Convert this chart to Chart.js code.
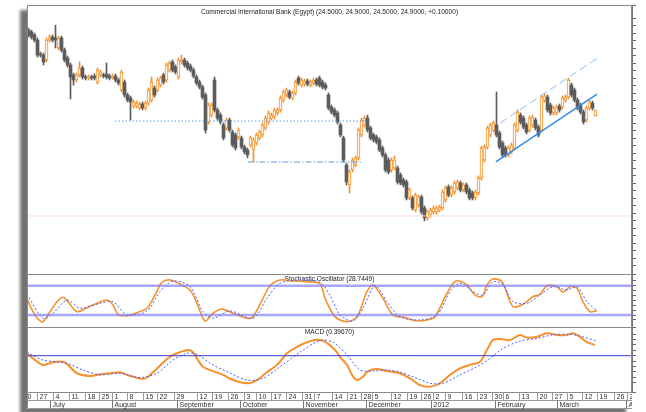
<!DOCTYPE html>
<html>
<head>
<meta charset="utf-8">
<script src="https://cdn.jsdelivr.net/npm/chart.js@4.4.1/dist/chart.umd.min.js"></script>
<style>
html, body { margin: 0; padding: 0; background: #fff; }
body { width: 646px; height: 412px; position: relative; overflow: hidden; }
#frame { position: absolute; left: 27px; top: 5px; width: 606px; height: 404px; background: #fff;
  box-shadow: -7px 5px 3px rgba(0,0,0,0.55); }
canvas { position: absolute; left: 0; }
#cMain { top: 0; }
#cStoch { top: 274px; }
#cMacd { top: 327px; }
</style>
</head>
<body>
<div id="frame"></div>
<canvas id="cMain" width="646" height="275"></canvas>
<canvas id="cStoch" width="646" height="53"></canvas>
<canvas id="cMacd" width="646" height="85"></canvas>
<script>
// daily candles, one per trading day (index 0 = late June 2011)
const opens = [
  30.23,30.10,29.90,29.56,28.63,28.56,28.23,29.56,29.76,29.70,
  29.03,29.70,28.90,28.36,27.90,27.23,26.90,27.23,27.70,27.10,
  27.03,27.10,27.16,26.76,27.23,27.23,27.30,27.16,27.10,27.16,
  26.90,26.23,26.76,25.90,25.70,25.16,25.16,25.03,25.30,25.03,
  25.36,25.56,26.36,26.23,26.56,27.23,26.90,27.56,28.10,27.76,
  27.10,28.10,28.23,28.03,27.83,27.56,27.10,26.76,26.43,25.90,
  24.10,24.56,26.90,24.90,24.56,23.90,23.70,24.23,23.43,23.23,
  23.10,23.03,22.43,22.23,22.56,22.23,22.70,23.03,23.23,23.70,
  24.10,24.36,24.43,24.70,24.90,25.56,25.90,26.10,25.70,26.03,
  27.03,26.56,26.63,26.83,26.56,26.70,26.90,27.03,26.76,26.56,
  25.90,25.10,24.90,24.70,23.90,23.03,21.23,19.90,20.90,21.23,
  21.70,23.23,23.90,24.36,23.70,23.23,23.10,22.90,22.36,21.90,
  21.56,20.90,21.03,21.03,20.56,20.23,20.10,19.03,19.03,18.23,
  18.56,19.10,18.36,17.70,17.90,18.10,18.10,18.23,18.36,18.90,
  19.76,19.23,19.43,19.70,20.03,19.56,19.90,19.56,19.36,19.03,
  19.36,20.36,21.56,22.43,23.23,23.56,23.90,23.36,22.70,22.36,
  21.90,22.10,22.36,23.56,24.56,24.36,23.90,23.56,23.90,24.23,
  23.76,23.56,25.56,25.76,25.23,24.70,24.70,25.16,25.10,25.56,
  25.76,26.56,26.23,25.56,25.23,24.76,24.23,25.03,25.36,24.50
];
const highs = [
  30.36,30.23,30.03,29.70,28.76,28.70,29.70,29.90,29.90,30.56,
  29.83,29.83,29.03,28.50,28.03,27.36,27.36,28.10,27.83,27.23,
  27.23,27.23,27.30,27.70,27.56,27.36,28.03,27.30,27.30,27.30,
  27.03,27.56,26.90,26.03,25.83,25.56,25.50,25.43,25.43,25.50,
  26.36,27.10,26.50,27.03,27.16,27.36,28.03,28.16,28.23,27.90,
  28.36,28.56,28.36,28.16,27.96,27.70,27.23,26.90,26.56,26.03,
  25.36,25.36,27.10,25.03,24.70,24.03,24.36,24.36,23.56,23.36,
  23.70,23.16,22.56,22.36,23.16,23.03,23.36,23.56,24.03,24.50,
  24.83,24.70,25.03,25.03,25.83,26.23,26.36,26.23,26.16,26.90,
  27.16,27.03,26.96,26.96,26.90,27.03,27.03,27.16,26.90,26.70,
  26.03,25.23,25.03,24.83,24.03,23.16,21.36,20.90,21.70,21.83,
  23.70,24.36,24.50,24.56,23.83,23.36,23.23,23.03,22.50,22.03,
  21.70,21.70,21.83,21.16,20.70,20.36,20.23,19.70,19.16,19.36,
  19.23,19.23,18.50,18.23,18.36,18.50,18.50,18.56,19.56,19.83,
  19.90,19.83,20.16,20.23,20.16,20.03,20.03,19.70,19.50,19.56,
  20.50,22.50,22.56,23.83,24.03,24.16,26.10,23.50,22.83,22.50,
  22.50,22.70,24.03,24.90,24.70,24.50,24.03,24.50,24.56,24.36,
  23.90,25.90,25.96,25.90,25.36,25.16,25.23,25.30,25.83,25.90,
  27.03,26.70,26.36,25.70,25.36,24.90,25.16,25.56,25.50,24.90
];
const lows = [
  29.76,29.63,29.43,28.43,28.43,27.90,28.10,29.43,29.43,29.03,
  28.90,28.76,28.10,27.76,25.63,26.56,26.76,27.10,26.96,26.90,
  26.90,26.90,26.90,26.63,27.10,27.03,26.96,26.90,26.96,26.76,
  26.56,26.10,25.76,25.43,24.23,25.03,25.03,24.90,24.90,24.90,
  25.23,25.43,25.76,26.10,26.43,26.63,26.76,27.43,27.43,27.30,
  26.96,27.96,27.76,27.56,27.43,27.03,26.56,26.30,25.63,23.36,
  23.96,24.43,24.76,24.23,23.96,22.90,23.56,23.43,22.43,22.23,
  22.96,22.30,21.96,21.70,22.43,21.43,22.56,22.90,23.10,23.56,
  23.96,24.23,24.30,24.56,24.76,25.43,25.76,25.63,25.56,25.90,
  26.56,26.43,26.50,26.50,26.43,26.56,26.50,26.43,26.30,26.23,
  24.90,24.63,24.43,23.96,23.10,21.43,19.90,19.36,20.76,21.10,
  21.56,23.10,23.76,23.43,22.90,22.76,22.63,22.10,21.76,20.76,
  20.63,20.76,20.90,19.96,19.90,19.76,18.90,18.90,18.23,18.10,
  18.43,17.96,17.50,17.56,17.76,17.96,17.96,18.10,18.23,18.76,
  19.10,19.10,19.30,19.56,19.43,19.43,19.30,18.90,18.90,18.90,
  19.23,20.23,21.43,22.30,23.10,23.43,23.10,22.30,21.76,21.76,
  21.76,21.96,22.23,23.43,23.96,23.63,23.30,23.43,23.76,23.56,
  23.10,23.43,25.43,24.76,24.56,24.56,24.56,24.76,24.96,25.43,
  25.63,25.76,25.43,24.90,24.63,23.96,24.10,24.90,24.90,24.50
];
const closes = [
  29.90,29.76,29.56,28.56,28.56,28.10,29.56,29.76,29.56,29.56,
  29.70,28.90,28.23,27.90,27.10,26.90,27.23,27.70,27.10,27.03,
  27.10,27.03,27.03,27.56,27.43,27.16,27.10,27.03,27.16,26.90,
  26.70,27.43,25.90,25.56,25.43,25.43,25.36,25.30,25.03,25.36,
  26.23,26.76,25.90,26.90,27.03,26.76,27.90,28.03,27.56,27.43,
  28.23,28.23,27.90,27.70,27.56,27.16,26.70,26.43,25.76,23.56,
  25.23,25.23,24.90,24.36,24.10,23.03,24.23,23.56,22.56,22.36,
  23.56,22.43,22.10,21.90,23.03,22.90,23.23,23.43,23.90,24.36,
  24.70,24.56,24.90,24.90,25.70,26.10,26.23,25.76,26.03,26.76,
  26.70,26.90,26.83,26.63,26.76,26.90,26.63,26.56,26.43,26.36,
  25.03,24.76,24.56,24.10,23.23,21.56,20.10,20.76,21.56,21.70,
  23.56,24.23,24.36,23.56,23.03,22.90,22.76,22.23,21.90,20.90,
  20.76,21.56,21.56,20.10,20.03,19.90,19.03,19.56,18.36,19.23,
  19.10,18.10,17.70,18.10,18.23,18.36,18.36,18.43,19.43,19.70,
  19.23,19.70,20.03,20.10,19.56,19.90,19.43,19.03,19.03,19.43,
  20.36,22.36,22.43,23.70,23.90,24.03,23.23,22.43,21.90,21.90,
  22.36,22.56,23.90,24.76,24.10,23.76,23.43,24.36,24.43,23.70,
  23.23,25.76,25.83,24.90,24.70,25.03,25.10,24.90,25.70,25.76,
  26.90,25.90,25.56,25.03,24.76,24.10,25.03,25.43,25.03,24.90
];

// drawn levels and trend channel (x in trading-day index, y in price)
const dottedLevelX = [28.83, 112.17], dottedLevelY = [24.16, 24.16];
const dashDotLevelX = [73.17, 111.5], dashDotLevelY = [21.43, 21.43];
const trendX = [155.8, 189.5], trendY = [21.43, 25.96];
const channelX = [157.2, 190.2], channelY = [24.03, 28.43];
const pinkLevelX = [-0.5, 201.17], pinkLevelY = [17.83, 17.83];

// stochastic oscillator
const stochKX = [-0.5,1.17,3.17,4.83,7.17,9.5,11.5,13.17,16.17,19.5,22.83,26.17,28.17,29.83,32.83,36.17,39.5,42.17,44.5,47.17,50.5,53.83,56.17,58.83,61.5,64.5,68.17,72.83,74.83,78.17,80.5,83.83,88.17,92.83,97.17,98.83,102.17,106.17,109.5,112.83,114.83,118.17,121.5,125.5,129.5,132.83,135.5,139.5,142.5,146.17,148.83,151.17,152.83,154.83,157.83,161.5,164.83,168.17,170.5,172.83,176.17,178.17,180.5,182.83,184.83,187.17,189.5];
const stochK = [54.2,30.3,11.9,6.4,26.8,47.3,56.3,47.3,26.8,35,44,50.8,40.5,21.5,18.6,24.8,33.8,61,87,91.7,83.5,71.2,44,7.8,23.6,32.4,23.6,13.3,16.6,54.2,80,91.7,89.6,88.2,84,54.2,16.6,6.4,16.6,67.7,81.4,54.2,20.1,14.6,7.8,9.9,16.6,64.5,89.6,81.4,61,57.5,81.4,93.7,88.2,37,42,57.5,62.4,80,78,66.5,78,74.7,47.3,26.8,28.7];
const stochDX = [-0.5,4.83,8.17,12.83,17.17,23.83,28.17,32.83,39.5,43.83,48.17,53.83,58.17,61.5,67.17,74.83,79.5,83.83,90.5,97.17,100.5,103.83,108.17,111.5,115.5,119.5,123.83,130.5,136.17,140.5,143.83,148.17,151.5,154.83,158.17,161.5,166.17,170.5,174.83,179.5,182.83,186.17,189.5];
const stochD = [62.4,13.3,23.6,50.8,33.8,44,47.3,20.1,28.3,67.7,89.6,78,26.8,13.3,28.3,13.3,54.2,84.9,91.7,87,60,20.1,7.8,33.8,80,47.3,16.6,9.9,20.1,67.7,84.9,67.7,61,88.2,81.4,47.3,44,61,78,71.2,78,47.3,28.3];
const stochLevels = [80, 20];

// MACD and signal
const macdX = [-0.5,1.5,4.83,8.17,11.5,13.17,16.17,20.5,23.83,27.17,30.5,32.83,34.83,38.17,39.83,42.83,46.17,48.17,50.5,53.17,54.83,56.5,58.17,61.5,64.83,68.17,72.83,76.17,79.5,82.83,86.17,89.5,92.83,96.17,98.83,102.17,103.83,106.17,107.83,109.5,111.5,113.17,116.17,119.5,123.83,127.17,130.5,133.83,137.17,140.5,143.83,147.17,150.5,152.83,154.83,157.17,160.5,163.83,166.17,169.5,172.83,176.17,179.5,181.5,183.83,186.17,188.83];
const macdVals = [0.09,-0.10,-0.34,-0.24,-0.22,-0.34,-0.65,-0.75,-0.69,-0.65,-0.61,-0.71,-0.78,-0.86,-0.78,-0.47,-0.12,0.03,0.13,0.21,0.13,-0.16,-0.41,-0.57,-0.71,-0.90,-1.02,-0.90,-0.61,-0.34,0.09,0.33,0.50,0.59,0.52,0.21,-0.04,-0.34,-0.71,-0.90,-0.78,-0.57,-0.49,-0.57,-0.65,-0.84,-1.09,-1.15,-1.02,-0.71,-0.47,-0.34,-0.22,0.21,0.58,0.62,0.58,0.77,0.67,0.70,0.83,0.77,0.77,0.83,0.70,0.50,0.40];
const signalX = [-0.5,4.83,12.83,18.17,23.83,30.5,37.17,42.83,48.17,52.83,56.17,60.5,66.17,72.83,78.17,83.83,90.5,97.17,101.5,106.17,110.5,114.83,119.5,123.83,129.5,133.83,138.17,143.83,149.5,153.83,158.17,163.83,169.5,174.83,180.5,184.83,189.5];
const signalVals = [0.13,-0.16,-0.28,-0.53,-0.71,-0.65,-0.81,-0.65,-0.16,0.09,0.05,-0.28,-0.59,-0.90,-0.84,-0.41,0.13,0.56,0.50,0.03,-0.53,-0.57,-0.53,-0.61,-0.84,-1.02,-1.02,-0.71,-0.41,-0.10,0.27,0.54,0.64,0.77,0.79,0.70,0.54];

// date axis
const dayTickLabels = ['20','27','4','11','18','25','1','8','15','22','29','12','19','26','3','10','17','24','31','7','14','21','28','5','12','19','26','2','9','16','23','30','6','13','20','27','5','12','19','26','2'];
const dayTickPos = [-2.6,2.83,8.17,13.5,18.83,23.5,27.83,32.83,38.17,42.83,48.5,56.17,61.17,66.5,71.83,75.83,80.83,85.83,91.17,95.17,101.17,106.17,110.83,114.5,120.83,126.17,130.83,134.83,138.83,144.5,149.5,154.5,158.17,163.5,169.5,174.5,179.5,184.5,189.5,195.17,199.5];
const monthLabels = ['July','August','September','October','November','December','2012','February','March','April'];
const monthPos = [7.17,27.83,49.5,70.5,91.5,112.5,134.17,155.5,176.17,199.17];

const titleMain = 'Commercial International Bank (Egypt) (24.5000, 24.9000, 24.5000, 24.9000, +0.10000)';
const titleStoch = 'Stochastic Oscillator (28.7449)';
const titleMacd = 'MACD (0.39670)';

const FONT = '"Liberation Sans", Arial, sans-serif';
const ORANGE = '#f7912a';
const GREY = '#5c5c5c';
const X_MIN = -0.5, X_MAX = 201.17;

const deco = {
  id: 'deco',
  beforeDatasetsDraw(chart, args, opts) {
    if (!opts.title) return;
    const { ctx, chartArea: a } = chart;
    ctx.save();
    ctx.font = '6.6px ' + FONT;
    ctx.fillStyle = '#222';
    ctx.textAlign = 'center';
    ctx.textBaseline = 'middle';
    ctx.fillText(opts.title, (a.left + a.right) / 2, a.top + opts.titleY);
    ctx.restore();
  },
  afterDraw(chart) {
    const { ctx, chartArea: a } = chart;
    ctx.save();
    ctx.strokeStyle = '#8a8a8a';
    ctx.lineWidth = 1;
    ctx.strokeRect(a.left + 0.5, a.top + 0.5, a.right - a.left - 1, a.bottom - a.top);
    ctx.restore();
  }
};

const dateAxis = {
  id: 'dateAxis',
  afterDraw(chart) {
    const { ctx, chartArea: a, scales: { x } } = chart;
    const y1 = a.bottom + 0.5, y2 = y1 + 8, y3 = y1 + 16;
    ctx.save();
    ctx.beginPath();
    ctx.rect(a.left + 1, y1 - 1, a.right - a.left - 1, y3 - y1 + 2);
    ctx.clip();
    ctx.strokeStyle = '#9a9a9a';
    ctx.lineWidth = 1;
    ctx.beginPath();
    ctx.moveTo(a.left, y2); ctx.lineTo(a.right, y2);
    ctx.moveTo(a.left, y3); ctx.lineTo(a.right, y3);
    ctx.stroke();
    ctx.font = '7px ' + FONT;
    ctx.fillStyle = '#333';
    ctx.textBaseline = 'middle';
    ctx.textAlign = 'left';
    dayTickPos.forEach((p, i) => {
      const px = Math.round(x.getPixelForValue(p)) + 0.5;
      ctx.beginPath(); ctx.moveTo(px, y1); ctx.lineTo(px, y2); ctx.stroke();
      ctx.fillText(dayTickLabels[i], px + 2, (y1 + y2) / 2 + 0.5);
    });
    ctx.strokeStyle = '#777';
    monthPos.forEach((p, i) => {
      const px = Math.round(x.getPixelForValue(p)) + 0.5;
      ctx.beginPath(); ctx.moveTo(px, y2); ctx.lineTo(px, y3); ctx.stroke();
      ctx.fillText(monthLabels[i], px + 2, (y2 + y3) / 2 + 0.5);
    });
    ctx.restore();
    ctx.save();
    ctx.strokeStyle = '#8a8a8a';
    ctx.beginPath();
    ctx.moveTo(a.left + 0.5, y1); ctx.lineTo(a.left + 0.5, y3);
    ctx.stroke();
    ctx.restore();
  }
};

function line(xs, ys, color, width, dash, tension) {
  return {
    type: 'line',
    data: xs.map((x, i) => ({ x: x, y: ys[i] })),
    borderColor: color, borderWidth: width, borderDash: dash || [],
    tension: tension || 0, pointRadius: 0, fill: false, order: 1
  };
}

function rightAxis(min, max, step) {
  return {
    position: 'right', min: min, max: max,
    ticks: { display: false, stepSize: step },
    grid: { drawOnChartArea: false, drawTicks: true, tickLength: 4, color: '#666' },
    border: { display: true, color: '#777', width: 1 },
    afterFit(s) { s.width = 14; }
  };
}

function baseOptions(padding, yAxis, decoOpts) {
  return {
    responsive: false, animation: false, devicePixelRatio: 1,
    layout: { padding: padding },
    plugins: { legend: { display: false }, tooltip: { enabled: false }, deco: decoOpts },
    scales: {
      x: { type: 'linear', min: X_MIN, max: X_MAX, display: false, offset: false },
      y: yAxis
    }
  };
}

// price panel
const idx = closes.map((c, i) => i);
const isUp = idx.map(i => closes[i] >= opens[i]);
new Chart(document.getElementById('cMain'), {
  type: 'bar',
  data: {
    datasets: [
      line(pinkLevelX, pinkLevelY, '#ffdcdc', 1),
      {
        type: 'bar', order: 3, grouped: false, barThickness: 1,
        data: idx.map(i => ({ x: i, y: [lows[i], highs[i]] })),
        backgroundColor: isUp.map(u => u ? ORANGE : GREY)
      },
      {
        type: 'bar', order: 2, grouped: false, barThickness: 3, minBarLength: 1,
        borderSkipped: false,
        data: idx.map(i => ({ x: i, y: [opens[i], closes[i]] })),
        backgroundColor: isUp.map(u => u ? '#fff6ec' : GREY),
        borderColor: isUp.map(u => u ? ORANGE : GREY),
        borderWidth: isUp.map(u => u ? 1 : 0)
      },
      line(dottedLevelX, dottedLevelY, '#5a9fe6', 1, [1.5, 2]),
      line(dashDotLevelX, dashDotLevelY, '#5a9fe6', 1, [6, 2, 1.5, 2]),
      line(trendX, trendY, '#2d8cf0', 1.5),
      line(channelX, channelY, '#86bdf5', 1, [8, 4])
    ]
  },
  options: baseOptions({ left: 27, top: 5, bottom: 1, right: 0 }, rightAxis(13.96, 31.9, 0.5),
    { title: titleMain, titleY: 7 }),
  plugins: [deco]
});

// stochastic panel
new Chart(document.getElementById('cStoch'), {
  type: 'line',
  data: {
    datasets: [
      line([X_MIN, X_MAX], [stochLevels[0], stochLevels[0]], 'rgba(120,120,250,0.65)', 2.5),
      line([X_MIN, X_MAX], [stochLevels[1], stochLevels[1]], 'rgba(120,120,250,0.65)', 2.5),
      line(stochDX, stochD, '#4d5cff', 1, [2, 2], 0.3),
      line(stochKX, stochK, ORANGE, 1.6, [], 0.3)
    ]
  },
  options: baseOptions({ left: 27, top: 0, bottom: 0, right: 0 }, rightAxis(-4.55, 103.95, 10),
    { title: titleStoch, titleY: 5 }),
  plugins: [deco]
});

// MACD panel with date axis
new Chart(document.getElementById('cMacd'), {
  type: 'line',
  data: {
    datasets: [
      line([X_MIN, X_MAX], [0, 0], '#3a3ad0', 1),
      line(signalX, signalVals, '#4d5cff', 1, [2, 2], 0.3),
      line(macdX, macdVals, ORANGE, 2, [], 0.3)
    ]
  },
  options: baseOptions({ left: 27, top: 0, bottom: 20, right: 0 }, rightAxis(-1.344, 1.063, 0.2),
    { title: titleMacd, titleY: 5 }),
  plugins: [deco, dateAxis]
});
</script>
</body>
</html>
